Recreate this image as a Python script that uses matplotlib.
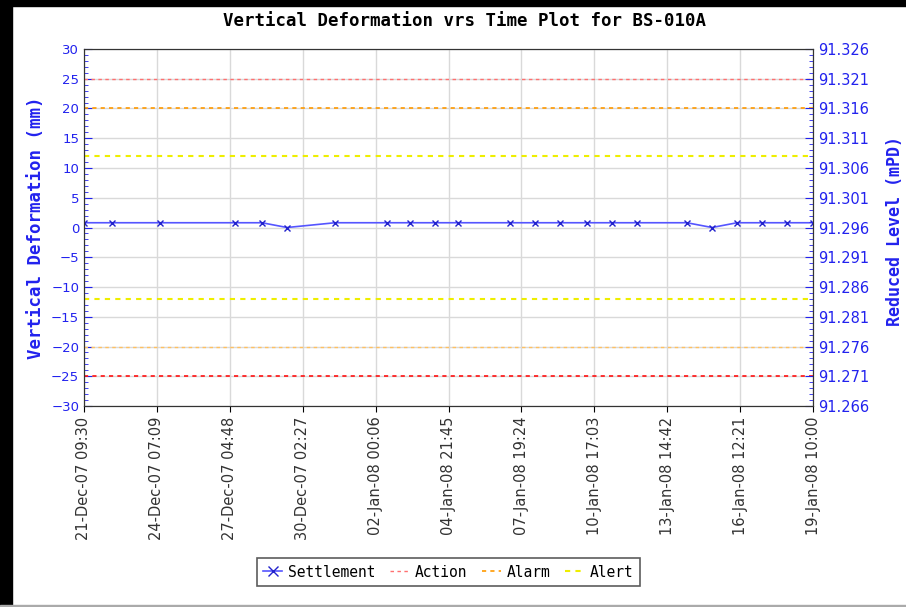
import matplotlib
matplotlib.use('Agg')
import matplotlib.pyplot as plt
import matplotlib.dates as mdates
from matplotlib.ticker import MultipleLocator, FixedLocator
from matplotlib.patches import Rectangle
import pandas as pd

# readings (approx. daily)
times = ['2007-12-21 09:30', '2007-12-22 12:20', '2007-12-24 10:05', '2007-12-27 09:50',
         '2007-12-28 11:30', '2007-12-29 11:30', '2007-12-31 09:20', '2008-01-02 11:00',
         '2008-01-03 09:00', '2008-01-04 08:50', '2008-01-05 06:50', '2008-01-07 08:30',
         '2008-01-08 08:30', '2008-01-09 08:20', '2008-01-10 10:05', '2008-01-11 09:55',
         '2008-01-12 09:50', '2008-01-14 09:30', '2008-01-15 09:30', '2008-01-16 09:25',
         '2008-01-17 09:10', '2008-01-18 09:05', '2008-01-19 10:00']
settlement = [0.8, 0.8, 0.8, 0.8, 0.8, 0.0, 0.8, 0.8, 0.8, 0.8, 0.8, 0.8,
              0.8, 0.8, 0.8, 0.8, 0.8, 0.8, 0.0, 0.8, 0.8, 0.8, 0.8]
action = 25
alarm = 20
alert = 12
rl_labels = ['91.326', '91.321', '91.316', '91.311', '91.306', '91.301', '91.296',
             '91.291', '91.286', '91.281', '91.276', '91.271', '91.266']

t = pd.to_datetime(times)
t0 = pd.Timestamp('2007-12-21 09:30')
t1 = pd.Timestamp('2008-01-19 10:00')
xticks = [t0 + (t1 - t0) * i / 10 for i in range(11)]

blue = '#2222ee'
fig = plt.figure(figsize=(9.06, 6.07), dpi=100)
ax = fig.add_axes([0.0927, 0.3311, 0.8047, 0.5882])

ax.plot(t, settlement, color='#5555ff', lw=1.2, marker='x', ms=4, mew=1.0,
        mec='#2222cc', label='Settlement', zorder=5)
dash = (0, (2.5, 2.5))
ax.axhline(action, color='#ff7070', lw=1, ls=dash, label='Action')
ax.axhline(-action, color='#ff1010', lw=1.2, ls=dash)
ax.axhline(alarm, color='#ff9900', lw=1.2, ls=dash, label='Alarm')
ax.axhline(-alarm, color='#ffc060', lw=1, ls=dash)
ax.axhline(alert, color='#eeee00', lw=1.5, ls=dash, label='Alert')
ax.axhline(-alert, color='#eeee00', lw=1.5, ls=dash)

ax.set_xlim(t0, t1)
ax.set_ylim(-30, 30)
ax.set_xticks(xticks)
ax.xaxis.set_major_formatter(mdates.DateFormatter('%d-%b-%y %H:%M'))
ax.yaxis.set_major_locator(MultipleLocator(5))
ax.yaxis.set_minor_locator(MultipleLocator(1))
ax.grid(True, color='#d9d9d9', lw=1)
ax.set_axisbelow(True)
for lab in ax.get_xticklabels():
    lab.set_rotation(90)
    lab.set_fontsize(10.5)
    lab.set_color('#333333')
ax.tick_params(axis='x', direction='out', length=4, color='black')
ax.tick_params(axis='y', which='major', direction='in', length=6, color=blue,
               labelcolor=blue, labelsize=9.5)
ax.tick_params(axis='y', which='minor', direction='in', length=3, color=blue)
ax.set_ylabel('Vertical Deformation (mm)', color=blue, fontsize=12.5,
              fontweight='bold', family='DejaVu Sans Mono', labelpad=4)

# right axis: reduced level, same scale as left (1 mm = 0.001 m)
ax2 = ax.twinx()
ax2.set_ylim(-30, 30)
ax2.yaxis.set_major_locator(FixedLocator([30 - 5 * i for i in range(13)]))
ax2.yaxis.set_minor_locator(MultipleLocator(1))
ax2.set_yticklabels(rl_labels)
ax2.tick_params(axis='y', which='major', direction='in', length=6, color=blue,
                labelcolor=blue, labelsize=10.5)
ax2.tick_params(axis='y', which='minor', direction='in', length=3, color=blue)
fig.text(0.988, 0.62, 'Reduced Level (mPD)', rotation=90, color=blue, fontsize=12,
         fontweight='bold', family='DejaVu Sans Mono', ha='center', va='center')

for a in (ax, ax2):
    for s in a.spines.values():
        s.set_color('#333333')

fig.text(0.513, 0.965, 'Vertical Deformation vrs Time Plot for BS-010A',
         ha='center', va='center', fontsize=12.5, fontweight='bold',
         family='DejaVu Sans Mono')

leg = ax.legend(loc='center', bbox_to_anchor=(0.5, -0.465), ncol=4,
                prop={'family': 'DejaVu Sans Mono', 'size': 10.5}, frameon=True,
                fancybox=False, edgecolor='#333333', handlelength=1.3,
                columnspacing=1.0, handletextpad=0.4, borderpad=0.45,
                markerscale=1.8)
leg.get_frame().set_linewidth(1.2)

# image frame
fig.patches.append(Rectangle((0, 0), 0.013, 1, transform=fig.transFigure,
                             color='black', zorder=10))
fig.patches.append(Rectangle((0, 0.99), 1, 0.01, transform=fig.transFigure,
                             color='black', zorder=10))
fig.patches.append(Rectangle((0, 0), 1, 0.003, transform=fig.transFigure,
                             color='#aaaaaa', zorder=10))

fig.savefig('out.png', dpi=100)
